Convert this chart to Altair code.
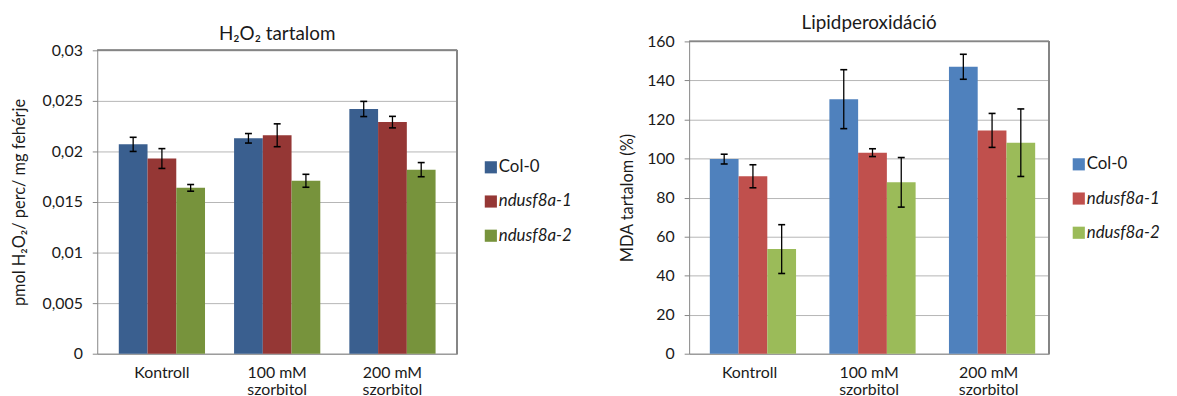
import altair as alt
import pandas as pd

FONT = "Lato"

groups = ["Kontroll", "100 mM szorbitol", "200 mM szorbitol"]
series = ["Col-0", "ndusf8a-1", "ndusf8a-2"]

# H2O2 content (left)
h2o2_col0 = [0.0207, 0.0213, 0.0242]
h2o2_nd1 = [0.0193, 0.0216, 0.0229]
h2o2_nd2 = [0.0164, 0.0171, 0.0182]
h2o2_err_col0 = [0.0007, 0.00047, 0.00075]
h2o2_err_nd1 = [0.00098, 0.00113, 0.00057]
h2o2_err_nd2 = [0.00033, 0.00064, 0.0007]
h2o2_ticks = [0, 0.005, 0.01, 0.015, 0.02, 0.025, 0.03]

# MDA content (right)
mda_col0 = [99.7, 130.4, 147.0]
mda_nd1 = [90.9, 103.0, 114.4]
mda_nd2 = [53.6, 87.8, 108.1]
mda_err_col0 = [2.5, 15.1, 6.4]
mda_err_nd1 = [5.9, 2.0, 8.7]
mda_err_nd2 = [12.5, 12.7, 17.3]
mda_ticks = [0, 20, 40, 60, 80, 100, 120, 140, 160]

colors_left = ["#3A5F8F", "#953735", "#77933C"]
colors_right = ["#4F81BD", "#C0504D", "#9BBB59"]


def make_df(vals, errs):
    rows = []
    for s, vl, el in zip(series, vals, errs):
        for g, v, e in zip(groups, vl, el):
            rows.append(dict(group=g, series=s, value=v, lo=v - e, hi=v + e))
    return pd.DataFrame(rows)


df_left = make_df([h2o2_col0, h2o2_nd1, h2o2_nd2],
                  [h2o2_err_col0, h2o2_err_nd1, h2o2_err_nd2])
df_right = make_df([mda_col0, mda_nd1, mda_nd2],
                   [mda_err_col0, mda_err_nd1, mda_err_nd2])

GRID = "#B5B5B5"
AXC = "#868686"
TXT = "#1a1a1a"

xlabel_expr = ("indexof(datum.label, ' szorbitol') > 0 ? "
               "[replace(datum.label, ' szorbitol', ''), 'szorbitol'] : datum.label")


def panel(df, colors, ymax, yticks, yrange, title, title_offset, ytitle,
          ylabel_expr, pad_inner, pad_outer, W, H, title_x):
    xaxis = alt.Axis(title=None, labelAngle=0, labelExpr=xlabel_expr, ticks=False,
                     domainColor=AXC, labelPadding=11, labelFontSize=16,
                     labelLineHeight=17, labelColor=TXT, labelBaseline="top")
    xenc = alt.X("group:N", sort=groups,
                 scale=alt.Scale(paddingInner=pad_inner, paddingOuter=pad_outer),
                 axis=xaxis)
    xoff = alt.XOffset("series:N", sort=series)
    yscale = alt.Scale(domain=[0, ymax], range=yrange, nice=False, zero=True)
    yaxis = alt.Axis(title=ytitle, values=yticks, tickCount=len(yticks) + 2,
                     labelExpr=ylabel_expr, labelOverlap=False,
                     grid=True, gridColor=GRID, domainColor=AXC, tickColor=AXC,
                     tickSize=5, labelPadding=10, labelFontSize=16,
                     labelColor=TXT, titleFontSize=16.5, titleFontWeight="normal",
                     titleColor=TXT, titleX=title_x, titleBaseline="middle")
    base = alt.Chart(df)
    bars = base.mark_bar().encode(
        x=xenc, xOffset=xoff,
        y=alt.Y("value:Q", scale=yscale, axis=yaxis),
        color=alt.Color("series:N", scale=alt.Scale(domain=series, range=colors),
                        legend=None),
    )
    rules = base.mark_rule(color="black", strokeWidth=1.3).encode(
        x=xenc, xOffset=xoff,
        y=alt.Y("lo:Q", scale=yscale, axis=yaxis), y2="hi:Q")
    cap_hi = base.mark_tick(color="black", thickness=1.6, size=7, opacity=1).encode(
        x=xenc, xOffset=xoff, y=alt.Y("hi:Q", scale=yscale, axis=yaxis))
    cap_lo = base.mark_tick(color="black", thickness=1.6, size=7, opacity=1).encode(
        x=xenc, xOffset=xoff, y=alt.Y("lo:Q", scale=yscale, axis=yaxis))
    top_border = base.mark_rule(color=AXC, strokeWidth=1).encode(
        y=alt.datum(ymax), x=alt.value(0), x2=alt.value(W))
    right_border = base.mark_rule(color=AXC, strokeWidth=1).encode(
        x=alt.value(W), y=alt.datum(ymax), y2=alt.datum(0))
    return alt.layer(bars, rules, cap_hi, cap_lo, top_border, right_border).properties(
        width=W, height=H,
        title=alt.TitleParams(title, offset=title_offset, baseline="alphabetic",
                              fontSize=19, font=FONT, fontWeight="normal",
                              color=TXT),
    )


def legend(colors, yrange, W, H, xsq):
    ldf = pd.DataFrame({"series": series})
    y = alt.Y("series:N", sort=series,
              scale=alt.Scale(range=yrange, padding=0), axis=None)
    sq = alt.Chart(ldf).mark_square(size=150, opacity=1).encode(
        x=alt.value(xsq), y=y,
        color=alt.Color("series:N", scale=alt.Scale(domain=series, range=colors),
                        legend=None))
    t1 = alt.Chart(ldf).transform_filter(alt.datum.series == "Col-0").mark_text(
        align="left", baseline="middle", fontSize=17, font=FONT, color=TXT
    ).encode(x=alt.value(xsq + 8), y=y, text="series:N")
    t2 = alt.Chart(ldf).transform_filter(alt.datum.series != "Col-0").mark_text(
        align="left", baseline="middle", fontSize=17, font=FONT, fontStyle="italic",
        color=TXT
    ).encode(x=alt.value(xsq + 8), y=y, text="series:N")
    return alt.layer(sq, t1, t2).properties(width=W, height=H)


H = 315
left = panel(df_left, colors_left, 0.03, h2o2_ticks, [H, 9], "H₂O₂ tartalom", -18,
             "pmol H₂O₂/ perc/ mg fehérje",
             "replace(format(datum.value, '~g'), '.', ',')",
             0.252, 0.187, 363, H, -78)
right = panel(df_right, colors_right, 160, mda_ticks, [H, 0], "Lipidperoxidáció", -15,
              "MDA tartalom (%)", "format(datum.value, 'd')",
              0.336, 0.173, 363, H, -62)
leg_left = legend(colors_left, [127, 196], 163, H, 33)
leg_right = legend(colors_right, [124, 193], 120, H, 29)

chart = alt.hconcat(left, leg_left, right, leg_right, spacing=0).resolve_scale(
    color="independent", y="independent", x="independent"
).properties(
    padding={"left": 4, "top": 5, "right": 0, "bottom": 0}
).configure_view(stroke=None).configure_axis(
    labelFont=FONT, titleFont=FONT
).configure_text(font=FONT)

chart.save("out.html", embed_options={"renderer": "svg", "actions": False})
